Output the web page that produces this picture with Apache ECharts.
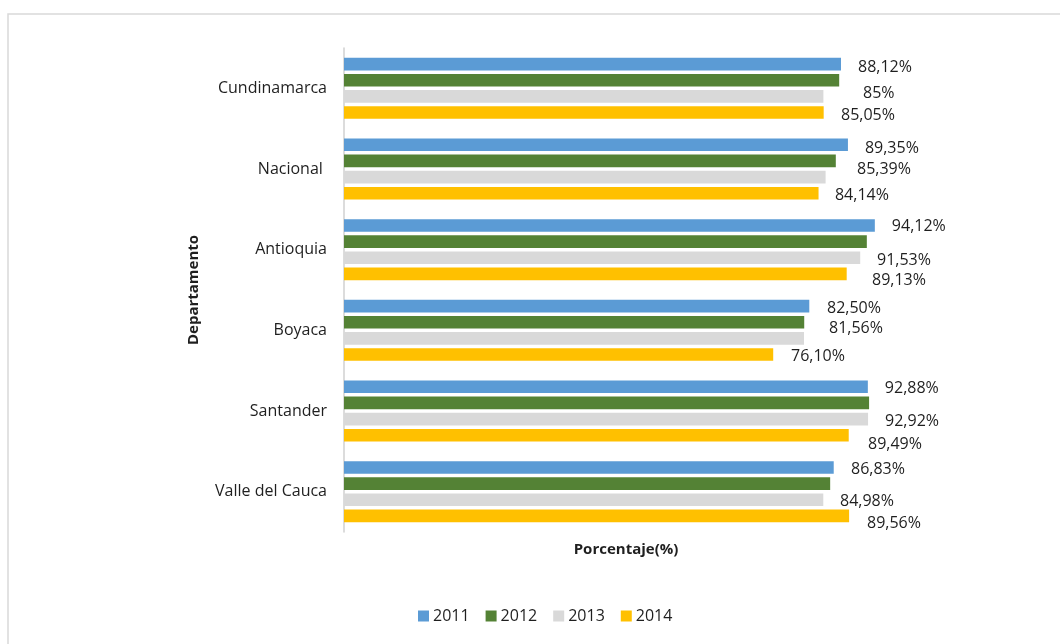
<!DOCTYPE html>
<html>
<head>
<meta charset="utf-8">
<script src="https://cdn.jsdelivr.net/npm/echarts@6/dist/echarts.min.js"></script>
<style>
html,body{margin:0;padding:0;background:#fff;}
#chart{width:1060px;height:644px;}
</style>
</head>
<body>
<div id="chart"></div>
<script>
// ---- data ----
const categories = ['Cundinamarca', 'Nacional ', 'Antioquia', 'Boyaca', 'Santander', 'Valle del Cauca'];
const years = ['2011', '2012', '2013', '2014'];
const v2011 = [88.12, 89.35, 94.12, 82.50, 92.88, 86.83];
const v2012 = [87.8, 87.2, 92.7, 81.6, 93.1, 86.2];
const v2013 = [85, 85.39, 91.53, 81.56, 92.92, 84.98];
const v2014 = [85.05, 84.14, 89.13, 76.10, 89.49, 89.56];
const xAxisName = 'Porcentaje(%)';
const yAxisName = 'Departamento';

// ---- layout of the data labels (manually moved in the original); null = no label ----
const labelShift = {
  '2011': [[0, 3], [0, 3.5], [0, 1], [0.7, 2.2], [0, 1.5], [0.3, 2]],
  '2012': null,
  '2013': [[22.6, -3], [14.4, -7.5], [-0.2, 2.8], [8, -9.8], [0, 2.5], [-0.3, 2]],
  '2014': [[0.3, 3], [-0.6, 2.5], [8.3, 6.8], [0.8, 2.2], [2.3, 9.5], [0.9, 8]]
};
const colors = ['#5B9BD5', '#548235', '#D9D9D9', '#FFC000'];
const FONT = '"Open Sans", "Noto Sans", sans-serif';

const seriesValues = [v2011, v2012, v2013, v2014];
function fmt(v) {
  return (Number.isInteger(v) ? String(v) : v.toFixed(2).replace('.', ',')) + '%';
}

const series = years.map((y, si) => {
  const shifts = labelShift[y];
  return {
    name: y,
    type: 'bar',
    barGap: '28%',
    barCategoryGap: '24.3%',
    itemStyle: { color: colors[si] },
    data: seriesValues[si].map((v, ci) => ({
      value: v,
      label: shifts ? {
        show: true,
        position: 'right',
        distance: 17,
        offset: shifts[ci],
        formatter: fmt(v),
        color: '#1f1f1f',
        fontFamily: FONT,
        fontSize: 16
      } : { show: false }
    })),
    animation: false
  };
});

const chart = echarts.init(document.getElementById('chart'), null, { renderer: 'canvas' });
chart.setOption({
  backgroundColor: '#ffffff',
  animation: false,
  color: colors,
  graphic: [{
    type: 'rect',
    shape: { x: 8, y: 14, width: 1100, height: 700 },
    style: { fill: 'none', stroke: '#d9d9d9', lineWidth: 1.5 },
    silent: true,
    z: -10
  }],
  grid: { left: 344, right: 152, top: 48, bottom: 112, containLabel: false },
  xAxis: {
    type: 'value',
    min: 0,
    max: 100,
    axisLine: { show: false },
    axisTick: { show: false },
    axisLabel: { show: false },
    splitLine: { show: false },
    name: xAxisName,
    nameLocation: 'middle',
    nameGap: 10,
    nameTextStyle: { fontFamily: FONT, fontSize: 15, fontWeight: 'bold', color: '#1f1f1f' }
  },
  yAxis: {
    type: 'category',
    data: categories,
    inverse: true,
    axisLine: { show: true, lineStyle: { color: '#d0d0d0', width: 1.5 } },
    axisTick: { show: false },
    axisLabel: { margin: 17, fontFamily: FONT, fontSize: 16, color: '#1f1f1f' },
    name: yAxisName,
    nameLocation: 'middle',
    nameRotate: 90,
    nameGap: 143,
    nameTextStyle: { fontFamily: FONT, fontSize: 15, fontWeight: 'bold', color: '#1f1f1f' }
  },
  legend: {
    data: years,
    left: 413,
    top: 603,
    icon: 'rect',
    itemWidth: 11,
    itemHeight: 11,
    itemGap: 16,
    textStyle: { fontFamily: FONT, fontSize: 16, color: '#1f1f1f', padding: [0, 0, 0, -1] }
  },
  series: series
});
</script>
</body>
</html>
